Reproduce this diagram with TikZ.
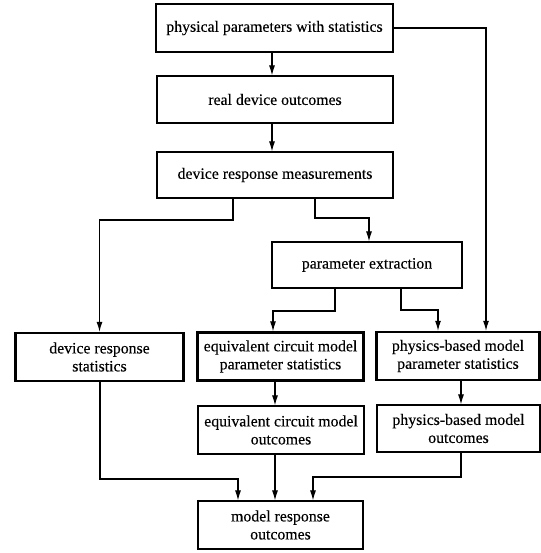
\documentclass[tikz,border=0pt]{standalone}
\usepackage{fontspec}
\setmainfont{Liberation Serif}[FakeBold=0.25]
\usetikzlibrary{arrows.meta}
\begin{document}
\begin{tikzpicture}[x=1pt,y=-1pt,
  box/.style={draw, line width=1.2pt, rectangle, align=center, inner sep=0pt,
    font=\fontsize{15.8}{18}\selectfont},
  thickbox/.style={box, line width=2.4pt},
  arr/.style={draw, line width=1.1pt, -{Latex[length=10pt,width=6pt]}}]
\useasboundingbox (0,0) rectangle (540,553);
\node[box, minimum width=237pt, minimum height=48pt] (A) at (274.5,28) {physical parameters with statistics};
\node[box, minimum width=236pt, minimum height=47pt] (B) at (275,99.5) {real device outcomes};
\node[box, minimum width=236pt, minimum height=46pt] (C) at (275,175) {device response measurements};
\node[box, minimum width=190pt, minimum height=46pt] (D) at (367,265) {parameter extraction};
\node[thickbox, minimum width=168pt, minimum height=48pt] (E) at (99.5,357) {device response\\statistics};
\node[thickbox, minimum width=166pt, minimum height=48pt] (F) at (280.5,356.5) {equivalent circuit model\\parameter statistics};
\node[thickbox, minimum width=163pt, minimum height=48pt] (G) at (458,356) {physics-based model\\parameter statistics};
\node[box, minimum width=166pt, minimum height=48pt] (H) at (281,430) {equivalent circuit model\\outcomes};
\node[box, minimum width=163pt, minimum height=47pt] (I) at (458.5,428.5) {physics-based model\\outcomes};
\node[box, minimum width=165pt, minimum height=48pt] (J) at (280.5,525) {model response\\outcomes};
% connectors
\draw[arr] (A.south -| 272,0) -- (B.north -| 272,0);
\draw[arr] (B.south -| 272,0) -- (C.north -| 272,0);
\draw[arr] (C.south -| 233,0) -- (233,220) -| (E.north -| 99.5,0);
\draw[arr] (C.south -| 315,0) -- (315,218) -| (D.north -| 369,0);
\draw[arr] (D.south -| 335,0) -- (335,311) -| (F.north -| 273,0);
\draw[arr] (D.south -| 401,0) -- (401,310) -| (G.north -| 438,0);
\draw[arr] (A.east) -| (G.north -| 486,0);
\draw[arr] (F.south -| 275,0) -- (H.north -| 275,0);
\draw[arr] (G.south -| 461,0) -- (I.north -| 461,0);
\draw[arr] (E.south -| 100,0) -- (100,479) -| (J.north -| 238,0);
\draw[arr] (H.south -| 275,0) -- (J.north -| 275,0);
\draw[arr] (I.south -| 461,0) -- (461,477) -| (J.north -| 313,0);
\end{tikzpicture}
\end{document}
